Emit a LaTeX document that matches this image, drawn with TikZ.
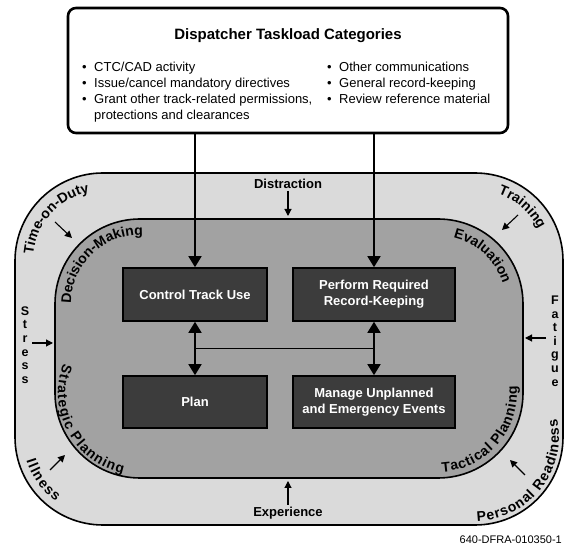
\documentclass[tikz,border=0pt]{standalone}
\usepackage{fontspec}
\setmainfont{Liberation Sans}
\usetikzlibrary{arrows.meta,decorations.text,calc}
\definecolor{outergrey}{HTML}{DADADA}
\definecolor{innergrey}{HTML}{A2A2A2}
\definecolor{boxgrey}{HTML}{3C3C3C}
\newcommand\curvefont{\bfseries\fontsize{14}{14}\selectfont}
\begin{document}
\begin{tikzpicture}[x=1pt,y=1pt,
  band/.style={draw=black,line width=1.6pt},
  taskbox/.style={draw=black,line width=1.6pt,fill=boxgrey,text=white,
    font=\bfseries\fontsize{13}{16}\selectfont,align=center,inner sep=0pt},
  bigarrow/.style={line width=1.6pt,-{Triangle[length=11pt,width=13pt]}},
  bigdouble/.style={line width=1.6pt,{Triangle[length=11pt,width=13pt]}-{Triangle[length=11pt,width=13pt]}},
  conn/.style={line width=1.6pt},
  smallarrow/.style={line width=1.1pt,-{Triangle[length=7pt,width=7pt]}},
  factor/.style={font=\bfseries\fontsize{13}{13}\selectfont,inner sep=0pt},
  stacked/.style={font=\bfseries\fontsize{12.5}{13.6}\selectfont,align=center,inner sep=0pt},
  bullet/.style={font=\fontsize{13}{16}\selectfont,anchor=base west,inner sep=0pt},
  curved/.style={decorate,decoration={text along path,text align={fit to path},text={|\curvefont|#1}}}
]
\useasboundingbox (0,0) rectangle (566,546);

% bands
\draw[band,fill=outergrey,rounded corners=88pt] (15,21) rectangle (563,373);
\draw[band,fill=innergrey,rounded corners=85pt] (55,68) rectangle (523,327);

% corner centres
\coordinate (otl) at (103,285);
\coordinate (otr) at (475,285);
\coordinate (obl) at (103,109);
\coordinate (obr) at (475,109);
\coordinate (itl) at (140,242);
\coordinate (itr) at (438,242);
\coordinate (ibl) at (140,153);
\coordinate (ibr) at (438,153);

% curved labels, outer band
\path[curved=Time-on-Duty] ($(otl)+(175:70)$) arc[start angle=175,end angle=102,radius=70];
\path[curved=Training] ($(otr)+(71:71)$) arc[start angle=71,end angle=26.6,radius=71];
\path[curved=Illness] ($(obl)+(197:80)$) arc[start angle=197,end angle=234,radius=80];
\path[curved=Personal Readiness] ($(obr)+(271.5:84)$) arc[start angle=271.5,end angle=372.5,radius=84];
% curved labels, inner area
\path[curved=Decision-Making] ($(itl)+(180:69)$) arc[start angle=180,end angle=88.5,radius=69];
\path[curved=Evaluation] ($(itr)+(77:68)$) arc[start angle=77,end angle=17.6,radius=68];
\path[curved=Strategic Planning] ($(ibl)+(159:82)$) arc[start angle=159,end angle=258,radius=82];
\path[curved=Tactical Planning] ($(ibr)+(273:79)$) arc[start angle=273,end angle=365,radius=79];

% factors
\node[factor] (distr) at (288,362) {Distraction};
\coordinate (distrtip) at (288,330);
\draw[smallarrow] (distr.south) ++(0,-2) -- (distrtip);
\node[factor] (exper) at (288,33) {Experience};
\coordinate (expertip) at (288,65);
\draw[smallarrow] (exper.north) ++(0,2) -- (expertip);
\node[stacked] (stress) at (25,201) {S\\t\\r\\e\\s\\s};
\coordinate (stressA) at (32,203);
\coordinate (stressB) at (53,203);
\draw[smallarrow] (stressA) -- (stressB);
\node[stacked] (fatig) at (555,205) {F\\a\\t\\i\\g\\u\\e};
\coordinate (fatA) at (546,208);
\coordinate (fatB) at (525,208);
\draw[smallarrow] (fatA) -- (fatB);
\coordinate (todA) at (55,324);
\coordinate (todB) at (72,308);
\draw[smallarrow] (todA) -- (todB);
\coordinate (trA) at (518,331);
\coordinate (trB) at (502,316);
\draw[smallarrow] (trA) -- (trB);
\coordinate (illA) at (50,76);
\coordinate (illB) at (65,91);
\draw[smallarrow] (illA) -- (illB);
\coordinate (prA) at (525,71);
\coordinate (prB) at (510,86);
\draw[smallarrow] (prA) -- (prB);

% task boxes
\node[taskbox,minimum width=144pt,minimum height=53pt] (ctrl) at (195,251.5) {Control Track Use};
\node[taskbox,minimum width=162pt,minimum height=53pt] (perf) at (374,251.5) {Perform Required\\Record-Keeping};
\node[taskbox,minimum width=144pt,minimum height=52pt] (plan) at (195,144) {Plan};
\node[taskbox,minimum width=162pt,minimum height=52pt] (man) at (374,144) {Manage Unplanned\\and Emergency Events};

% categories box
\node[draw=black,line width=2.6pt,fill=white,rounded corners=8pt,minimum width=440pt,minimum height=125pt,inner sep=0pt] (cat) at (288,475.5) {};
\node[font=\bfseries\fontsize{15}{15}\selectfont,anchor=base,inner sep=0pt] (title) at (288,506) {Dispatcher Taskload Categories};
\node[bullet] (b1) at (82,474.5) {•};
\node[bullet] (t1) at (94,474.5) {CTC/CAD activity};
\node[bullet] (b2) at (82,458.5) {•};
\node[bullet] (t2) at (94,458.5) {Issue/cancel mandatory directives};
\node[bullet] (b3) at (82,442.5) {•};
\node[bullet] (t3) at (94,442.5) {Grant other track-related permissions,};
\node[bullet] (t3b) at (94,426.5) {protections and clearances};
\node[bullet] (b4) at (327,474.5) {•};
\node[bullet] (t4) at (339,474.5) {Other communications};
\node[bullet] (b5) at (327,458.5) {•};
\node[bullet] (t5) at (339,458.5) {General record-keeping};
\node[bullet] (b6) at (327,442.5) {•};
\node[bullet] (t6) at (339,442.5) {Review reference material};

% connectors
\draw[bigarrow] (ctrl.north |- cat.south) -- (ctrl.north);
\draw[bigarrow] (perf.north |- cat.south) -- (perf.north);
\draw[bigdouble] (ctrl.south) -- (plan.north);
\draw[bigdouble] (perf.south) -- (man.north);
\draw[conn] ($(ctrl.south)!0.5!(plan.north)$) -- ($(perf.south)!0.5!(man.north)$);

% figure id
\node[font=\fontsize{11}{11}\selectfont,anchor=base east,inner sep=0pt] (figid) at (562,2) {640-DFRA-010350-1};
\end{tikzpicture}
\end{document}
